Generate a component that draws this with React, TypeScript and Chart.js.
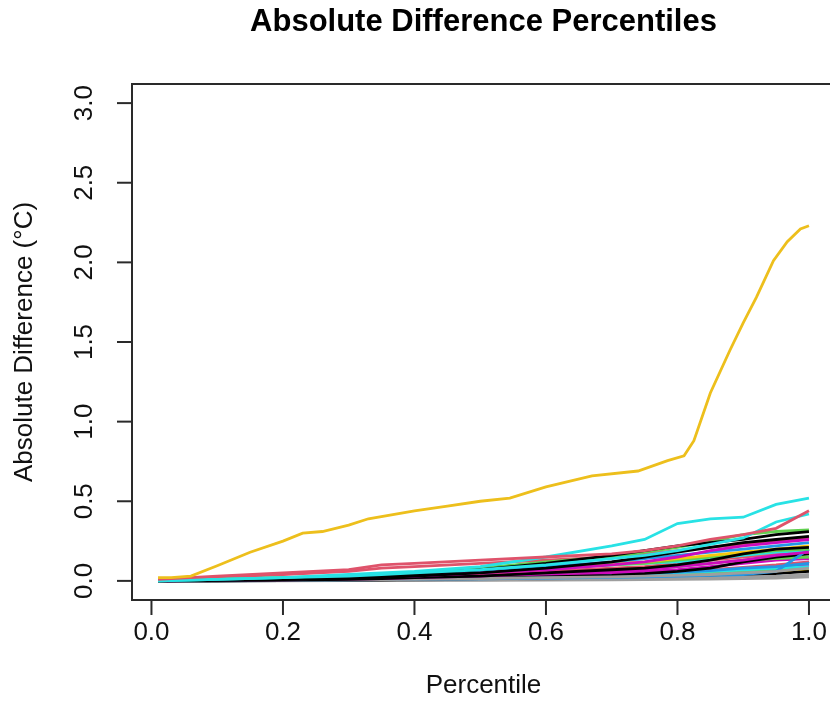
import React, { useEffect, useRef } from "react";
import { Chart, registerables } from "chart.js";

Chart.register(...registerables);

const TITLE = "Absolute Difference Percentiles";
const X_TITLE = "Percentile";
const Y_TITLE = "Absolute Difference (°C)";
const X_TICKS = [0, 0.2, 0.4, 0.6, 0.8, 1.0];
const X_TICK_LABELS = ["0.0", "0.2", "0.4", "0.6", "0.8", "1.0"];
const Y_TICKS = [0, 0.5, 1.0, 1.5, 2.0, 2.5, 3.0];
const Y_TICK_LABELS = ["0.0", "0.5", "1.0", "1.5", "2.0", "2.5", "3.0"];

// Outlier station (yellow)
const YELLOW_X = [0.01, 0.03, 0.06, 0.1, 0.15, 0.2, 0.23, 0.26, 0.3, 0.33, 0.4, 0.45, 0.5, 0.545, 0.6, 0.67, 0.74, 0.785, 0.81, 0.825, 0.85, 0.88, 0.9, 0.92, 0.946, 0.967, 0.987, 1.0];
const YELLOW_Y = [0.02, 0.02, 0.03, 0.095, 0.18, 0.25, 0.3, 0.31, 0.35, 0.39, 0.44, 0.47, 0.5, 0.52, 0.59, 0.66, 0.69, 0.755, 0.785, 0.88, 1.18, 1.45, 1.62, 1.78, 2.01, 2.13, 2.21, 2.23];

// Percentile grid for the remaining stations
const P = [0.01, 0.1, 0.2, 0.3, 0.35, 0.4, 0.5, 0.6, 0.7, 0.75, 0.8, 0.85, 0.9, 0.95, 1.0];

const S01 = [0.01, 0.03, 0.05, 0.07, 0.1, 0.11, 0.13, 0.15, 0.17, 0.19, 0.22, 0.26, 0.29, 0.33, 0.44];
const S02 = [0.0, 0.01, 0.02, 0.04, 0.05, 0.06, 0.09, 0.15, 0.22, 0.26, 0.36, 0.39, 0.4, 0.48, 0.52];
const S03 = [0.0, 0.01, 0.02, 0.03, 0.04, 0.05, 0.07, 0.1, 0.14, 0.16, 0.19, 0.23, 0.27, 0.37, 0.42];
const S04 = [0.0, 0.005, 0.01, 0.02, 0.03, 0.04, 0.07, 0.11, 0.16, 0.19, 0.22, 0.24, 0.26, 0.29, 0.31];
const S05 = [0.0, 0.01, 0.02, 0.03, 0.04, 0.05, 0.08, 0.12, 0.15, 0.18, 0.21, 0.25, 0.29, 0.31, 0.32];
const S06 = [0.0, 0.003, 0.008, 0.015, 0.02, 0.03, 0.05, 0.08, 0.12, 0.15, 0.18, 0.21, 0.24, 0.26, 0.28];
const S07 = [0.0, 0.005, 0.01, 0.02, 0.025, 0.03, 0.05, 0.07, 0.1, 0.12, 0.15, 0.19, 0.22, 0.24, 0.26];
const S08 = [0.005, 0.02, 0.04, 0.06, 0.08, 0.09, 0.11, 0.13, 0.15, 0.17, 0.19, 0.21, 0.23, 0.25, 0.27];
const S09 = [0.0, 0.005, 0.01, 0.02, 0.03, 0.04, 0.06, 0.09, 0.12, 0.14, 0.16, 0.18, 0.2, 0.22, 0.24];
const S10 = [0.0, 0.002, 0.005, 0.01, 0.015, 0.02, 0.03, 0.05, 0.07, 0.08, 0.1, 0.13, 0.17, 0.2, 0.21];
const S11 = [0.0, 0.01, 0.02, 0.03, 0.04, 0.05, 0.07, 0.09, 0.11, 0.12, 0.14, 0.16, 0.18, 0.2, 0.22];
const S12 = [0.0, 0.005, 0.015, 0.025, 0.03, 0.04, 0.06, 0.08, 0.1, 0.11, 0.13, 0.15, 0.17, 0.19, 0.2];
const S13 = [0.0, 0.003, 0.007, 0.012, 0.015, 0.02, 0.03, 0.05, 0.06, 0.07, 0.09, 0.11, 0.13, 0.16, 0.18];
const S14 = [0.0, 0.002, 0.004, 0.006, 0.008, 0.01, 0.015, 0.02, 0.025, 0.03, 0.035, 0.04, 0.05, 0.06, 0.08];
const S15 = [0.0, 0.002, 0.004, 0.006, 0.008, 0.01, 0.013, 0.017, 0.022, 0.025, 0.03, 0.035, 0.04, 0.06, 0.2];
const S16 = [0.0, 0.008, 0.015, 0.025, 0.03, 0.04, 0.06, 0.08, 0.1, 0.11, 0.12, 0.14, 0.16, 0.18, 0.19];
const S17 = [0.0, 0.004, 0.01, 0.02, 0.025, 0.03, 0.045, 0.06, 0.08, 0.09, 0.11, 0.13, 0.15, 0.17, 0.18];
const S18 = [0.0, 0.001, 0.003, 0.005, 0.007, 0.01, 0.015, 0.025, 0.035, 0.045, 0.06, 0.08, 0.12, 0.15, 0.17];
const S19 = [0.0, 0.003, 0.008, 0.015, 0.02, 0.025, 0.04, 0.05, 0.065, 0.075, 0.09, 0.11, 0.13, 0.14, 0.15];
const S20 = [0.0, 0.002, 0.005, 0.01, 0.012, 0.015, 0.025, 0.035, 0.05, 0.06, 0.07, 0.09, 0.11, 0.13, 0.14];
const S21 = [0.0, 0.001, 0.002, 0.003, 0.004, 0.005, 0.007, 0.009, 0.012, 0.014, 0.017, 0.02, 0.025, 0.03, 0.04];
const S22 = [0.0, 0.003, 0.006, 0.01, 0.013, 0.016, 0.023, 0.03, 0.04, 0.045, 0.055, 0.065, 0.08, 0.09, 0.11];
const S23 = [0.0, 0.002, 0.005, 0.009, 0.011, 0.013, 0.02, 0.027, 0.035, 0.04, 0.05, 0.06, 0.07, 0.08, 0.09];
const S24 = [0.0, 0.001, 0.002, 0.004, 0.005, 0.006, 0.009, 0.013, 0.018, 0.021, 0.025, 0.03, 0.035, 0.045, 0.06];
const S25 = [0.0, 0.003, 0.007, 0.012, 0.015, 0.018, 0.025, 0.035, 0.045, 0.05, 0.06, 0.07, 0.085, 0.1, 0.12];
const S26 = [0.0, 0.002, 0.004, 0.007, 0.009, 0.011, 0.016, 0.022, 0.03, 0.034, 0.04, 0.048, 0.058, 0.07, 0.08];
const S27 = [0.0, 0.002, 0.004, 0.006, 0.008, 0.01, 0.014, 0.02, 0.027, 0.032, 0.04, 0.05, 0.06, 0.07, 0.1];
const S28 = [0.0, 0.002, 0.004, 0.007, 0.009, 0.011, 0.015, 0.02, 0.026, 0.03, 0.035, 0.04, 0.05, 0.06, 0.07];
const S29 = [0.0, 0.001, 0.001, 0.002, 0.002, 0.003, 0.004, 0.005, 0.007, 0.008, 0.01, 0.012, 0.014, 0.018, 0.025];
const S30 = [0.0, 0.001, 0.002, 0.004, 0.005, 0.006, 0.008, 0.011, 0.015, 0.017, 0.02, 0.024, 0.03, 0.035, 0.12];

const SERIES = [S01, S02, S03, S04, S05, S06, S07, S08, S09, S10, S11, S12, S13, S14, S15, S16, S17, S18, S19, S20, S21, S22, S23, S24, S25, S26, S27, S28, S29, S30];
const SERIES_COLORS = [
  "#DF536B", "#28E2E5", "#28E2E5", "#000000", "#61D04F", "#000000", "#CD0BBC", "#DF536B", "#2297E6", "#000000",
  "#F5C710", "#61D04F", "#CD0BBC", "#9E9E9E", "#2297E6", "#28E2E5", "#DF536B", "#000000", "#61D04F", "#CD0BBC",
  "#9E9E9E", "#2297E6", "#28E2E5", "#000000", "#DF536B", "#61D04F", "#CD0BBC", "#F5C710", "#9E9E9E", "#2297E6",
];
const YELLOW_COLOR = "#EDBF1C";

const FONT = '"Liberation Sans", Arial, Helvetica, sans-serif';

export default function App() {
  const ref = useRef<HTMLCanvasElement | null>(null);

  useEffect(() => {
    if (!ref.current) return;
    const datasets: any[] = [];
    datasets.push({
      label: "yellow",
      data: YELLOW_X.map((x, i) => ({ x, y: YELLOW_Y[i] })),
      borderColor: YELLOW_COLOR,
      borderWidth: 2.8,
      pointRadius: 0,
      tension: 0,
    });
    SERIES.forEach((s, k) => {
      datasets.push({
        label: "s" + (k + 1),
        data: P.map((x, i) => ({ x, y: s[i] })),
        borderColor: SERIES_COLORS[k],
        borderWidth: 2.8,
        pointRadius: 0,
        tension: 0,
      });
    });

    const rPlot = {
      id: "rplot",
      afterDraw(chart: any) {
        const { ctx, chartArea: a, scales } = chart;
        const xs = scales.x;
        const ys = scales.y;
        ctx.save();
        ctx.strokeStyle = "#2a2a2a";
        ctx.lineWidth = 2;
        ctx.strokeRect(a.left, a.top, a.right - a.left, a.bottom - a.top);
        ctx.fillStyle = "#111";
        ctx.font = `26px ${FONT}`;
        ctx.textAlign = "center";
        ctx.textBaseline = "middle";
        X_TICKS.forEach((v, i) => {
          const px = xs.getPixelForValue(v);
          ctx.beginPath();
          ctx.moveTo(px, a.bottom);
          ctx.lineTo(px, a.bottom + 15);
          ctx.stroke();
          ctx.fillText(X_TICK_LABELS[i], px, a.bottom + 33);
        });
        Y_TICKS.forEach((v, i) => {
          const py = ys.getPixelForValue(v);
          ctx.beginPath();
          ctx.moveTo(a.left, py);
          ctx.lineTo(a.left - 15, py);
          ctx.stroke();
          ctx.save();
          ctx.translate(a.left - 47, py);
          ctx.rotate(-Math.PI / 2);
          ctx.fillText(Y_TICK_LABELS[i], 0, 0);
          ctx.restore();
        });
        const cx = (a.left + a.right) / 2;
        const cy = (a.top + a.bottom) / 2;
        ctx.fillText(X_TITLE, cx, a.bottom + 86);
        ctx.save();
        ctx.translate(a.left - 107, cy);
        ctx.rotate(-Math.PI / 2);
        ctx.fillText(Y_TITLE, 0, 0);
        ctx.restore();
        ctx.font = `bold 31px ${FONT}`;
        ctx.fillStyle = "#000";
        ctx.fillText(TITLE, cx, a.top - 62);
        ctx.restore();
      },
    };

    const chart = new Chart(ref.current, {
      type: "line",
      data: { datasets },
      options: {
        animation: false,
        responsive: false,
        devicePixelRatio: 1,
        layout: { padding: { left: 132, top: 84, right: 5, bottom: 127 } },
        plugins: { legend: { display: false }, tooltip: { enabled: false }, title: { display: false } },
        scales: {
          x: { type: "linear", min: -0.0296, max: 1.0396, display: false },
          y: { type: "linear", min: -0.12, max: 3.12, display: false },
        },
      },
      plugins: [rPlot],
    });
    return () => chart.destroy();
  }, []);

  return (
    <div style={{ position: "absolute", left: 0, top: 0, width: 830, height: 727, overflow: "hidden", background: "#fff" }}>
      <canvas ref={ref} width={840} height={727} style={{ width: 840, height: 727, display: "block" }} />
    </div>
  );
}
